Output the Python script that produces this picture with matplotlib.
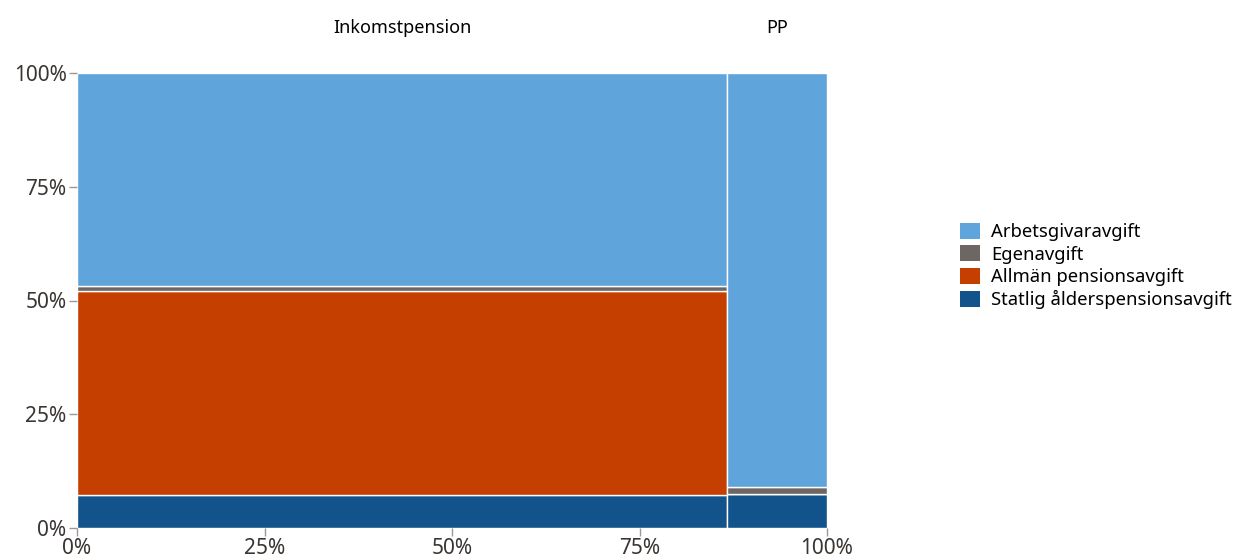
import numpy as np
import matplotlib
matplotlib.use("Agg")
import matplotlib.pyplot as plt
from matplotlib.patches import Patch

plt.rcParams['font.family'] = ['Noto Sans', 'DejaVu Sans']

# Column groups and their share of total width (%)
groups = ['Inkomstpension', 'PP']
widths = [86.7, 13.3]

# Stacked shares within each column (%), bottom to top
series = ['Statlig ålderspensionsavgift', 'Allmän pensionsavgift', 'Egenavgift', 'Arbetsgivaravgift']
statlig = [7.2, 7.5]
allman = [44.9, 0.0]
egen = [1.1, 1.5]
arbetsgivare = [46.8, 91.0]

colors = {
    'Arbetsgivaravgift': '#5fa4da',
    'Egenavgift': '#6e6662',
    'Allmän pensionsavgift': '#c43f00',
    'Statlig ålderspensionsavgift': '#11538a',
}

fig = plt.figure(figsize=(12.33, 5.58), dpi=100)
ax = fig.add_axes([77 / 1233, 1 - 528 / 558, 750 / 1233, 455 / 558])

lefts = np.concatenate([[0], np.cumsum(widths)[:-1]])
bottom = np.zeros(len(groups))
for name, vals in zip(series, [statlig, allman, egen, arbetsgivare]):
    vals = np.array(vals)
    ax.bar(lefts, vals, width=widths, bottom=bottom, align='edge',
           color=colors[name], edgecolor='white', linewidth=1)
    bottom += vals

# column titles above the plot
for l, w, g in zip(lefts, widths, groups):
    ax.text(l + w / 2, 1.0 + 45 / 455, g, transform=ax.get_xaxis_transform(),
            ha='center', va='center', fontsize=13, color='black')

ax.set_xlim(0, 100)
ax.set_ylim(0, 100)
ticks = [0, 25, 50, 75, 100]
ax.set_xticks(ticks)
ax.set_yticks(ticks)
ax.set_xticklabels([f'{t}%' for t in ticks])
ax.set_yticklabels([f'{t}%' for t in ticks])
ax.tick_params(axis='both', colors='#999999', labelcolor='#3a3532', labelsize=15,
               length=5.5, width=1, pad=2)
for s in ax.spines.values():
    s.set_visible(False)

legend_order = ['Arbetsgivaravgift', 'Egenavgift', 'Allmän pensionsavgift', 'Statlig ålderspensionsavgift']
handles = [Patch(facecolor=colors[n], edgecolor='none') for n in legend_order]
fig.legend(handles, legend_order, loc='center left', bbox_to_anchor=(960 / 1233, 1 - 266 / 558),
           frameon=False, fontsize=13.3, handlelength=1.07, handleheight=0.96,
           handletextpad=0.62, labelspacing=0.22, borderpad=0, borderaxespad=0)

fig.savefig('out.png', dpi=100)
